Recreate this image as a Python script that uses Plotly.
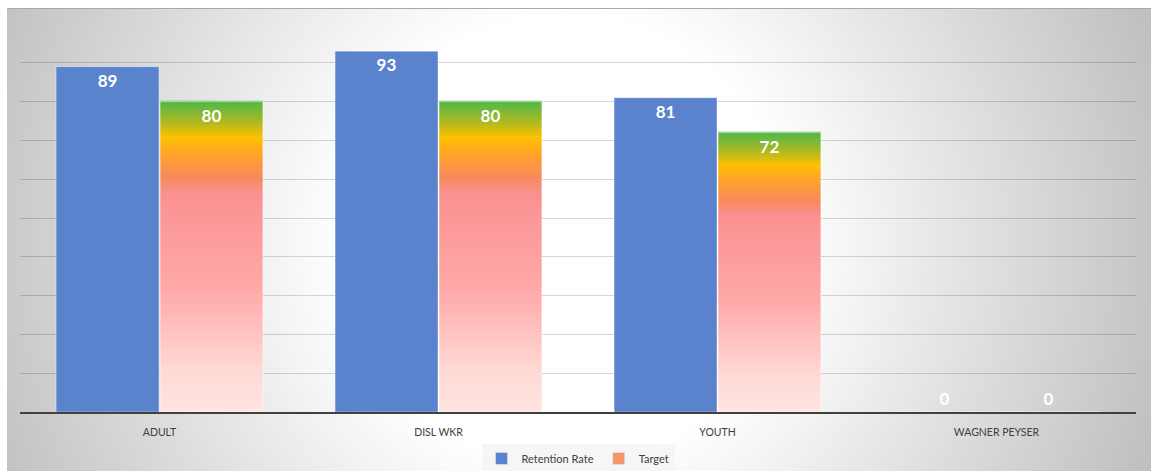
import base64
import plotly.graph_objects as go

categories = ["ADULT", "DISL WKR", "YOUTH", "WAGNER PEYSER"]
retention_rate = [89, 93, 81, 0]
target = [80, 80, 72, 0]

BLUE = "#5B83CD"
# gradient stops for the target bars (fraction from the top of bar, colour)
grad_stops = [
    (0.00, (76, 184, 72)),
    (0.06, (160, 184, 40)),
    (0.12, (255, 192, 0)),
    (0.18, (255, 160, 48)),
    (0.25, (247, 138, 95)),
    (0.30, (250, 145, 145)),
    (0.60, (255, 168, 168)),
    (0.88, (255, 218, 214)),
    (1.00, (255, 228, 224)),
]


def grad_color(f):
    for (f0, c0), (f1, c1) in zip(grad_stops[:-1], grad_stops[1:]):
        if f0 <= f <= f1:
            t = (f - f0) / (f1 - f0) if f1 > f0 else 0
            c = [round(a + (b - a) * t) for a, b in zip(c0, c1)]
            return "rgb(%d,%d,%d)" % tuple(c)
    return "rgb(%d,%d,%d)" % grad_stops[-1][1]


# figure geometry
W, H = 1151, 471
ML, MR, MT, MB = 20, 15, 24, 59
PW, PH = W - ML - MR, H - MT - MB

# background radial gradient (chart area) as SVG image
bx0, by0, bx1, by1 = 7, 8, 1151, 471
bw, bh = bx1 - bx0, by1 - by0
svg = f"""<svg xmlns='http://www.w3.org/2000/svg' width='{bw}' height='{bh}' viewBox='0 0 {bw} {bh}' preserveAspectRatio='none'>
<defs><radialGradient id='g' gradientUnits='userSpaceOnUse' cx='{565-bx0}' cy='{240-by0}' r='620'>
<stop offset='0' stop-color='#ffffff'/><stop offset='0.36' stop-color='#ffffff'/>
<stop offset='1' stop-color='#c0c0c0'/></radialGradient></defs>
<rect x='0' y='0' width='{bw}' height='{bh}' fill='url(#g)'/>
<line x1='0' y1='0.5' x2='{bw}' y2='0.5' stroke='#a8a8a8' stroke-width='1'/>
</svg>"""
src = "data:image/svg+xml;base64," + base64.b64encode(svg.encode()).decode()

LABEL_FONT = dict(family="Lato", size=17, color="white", weight="bold")

fig = go.Figure()

fig.add_trace(go.Bar(
    x=categories, y=retention_rate, name="Retention Rate",
    offsetgroup="rr",
    marker=dict(color=BLUE, line=dict(color="rgba(255,255,255,0.35)", width=1)),
    text=[str(v) for v in retention_rate],
    textposition=["inside" if v > 0 else "outside" for v in retention_rate],
    insidetextanchor="end",
    textfont=LABEL_FONT, outsidetextfont=LABEL_FONT,
    textangle=0, cliponaxis=False,
))

# target bars drawn as gradient segments
K = 90
for i in range(K):
    frac_bottom = 1 - (i + 1) / K
    fig.add_trace(go.Bar(
        x=categories,
        y=[v / K * 1.25 if v > 0 else 0 for v in target],
        base=[v * frac_bottom for v in target],
        offsetgroup="tg",
        marker=dict(color=grad_color((i + 0.5) / K), line=dict(width=0)),
        showlegend=False, hoverinfo="skip",
    ))

# target outline + labels
fig.add_trace(go.Bar(
    x=categories, y=target, name="Target",
    offsetgroup="tg",
    marker=dict(color="rgba(0,0,0,0)", line=dict(color="rgba(255,255,255,0.5)", width=1)),
    text=[str(v) for v in target],
    textposition=["inside" if v > 0 else "outside" for v in target],
    insidetextanchor="end",
    textfont=LABEL_FONT, outsidetextfont=LABEL_FONT,
    textangle=0, cliponaxis=False, showlegend=False,
))
# legend entry for target
fig.add_trace(go.Bar(
    x=[None], y=[None], name="Target", offsetgroup="tg",
    marker=dict(color="#F4956E"),
))

fig.update_layout(
    width=W, height=H,
    margin=dict(l=ML, r=MR, t=MT, b=MB, pad=0, autoexpand=False),
    paper_bgcolor="white", plot_bgcolor="rgba(0,0,0,0)",
    barmode="group", bargap=0.255, bargroupgap=0.01,
    showlegend=True,
    legend=dict(orientation="h", x=0.5, xanchor="center",
                y=-(444 - (MT + PH)) / PH, yanchor="top",
                bgcolor="#f6f6f6", font=dict(family="Lato", size=11, color="#404040"),
                itemwidth=30, traceorder="normal", tracegroupgap=0),
    font=dict(family="Lato", color="#404040"),
    images=[dict(source=src, xref="paper", yref="paper",
                 x=(bx0 - ML) / PW, y=(MT + PH - by0) / PH,
                 sizex=bw / PW, sizey=bh / PH,
                 xanchor="left", yanchor="top", sizing="stretch", layer="below")],
    xaxis=dict(showline=True, linecolor="#404040", linewidth=2, ticks="",
               tickfont=dict(family="Lato", size=10.5, color="#404040"),
               ticklabelstandoff=9, showgrid=False),
    yaxis=dict(range=[0, 100], dtick=10, showticklabels=False, showgrid=True,
               gridcolor="rgba(0,0,0,0.16)", gridwidth=1, zeroline=False,
               showline=False, ticks=""),
)

fig.write_html("out.html")
